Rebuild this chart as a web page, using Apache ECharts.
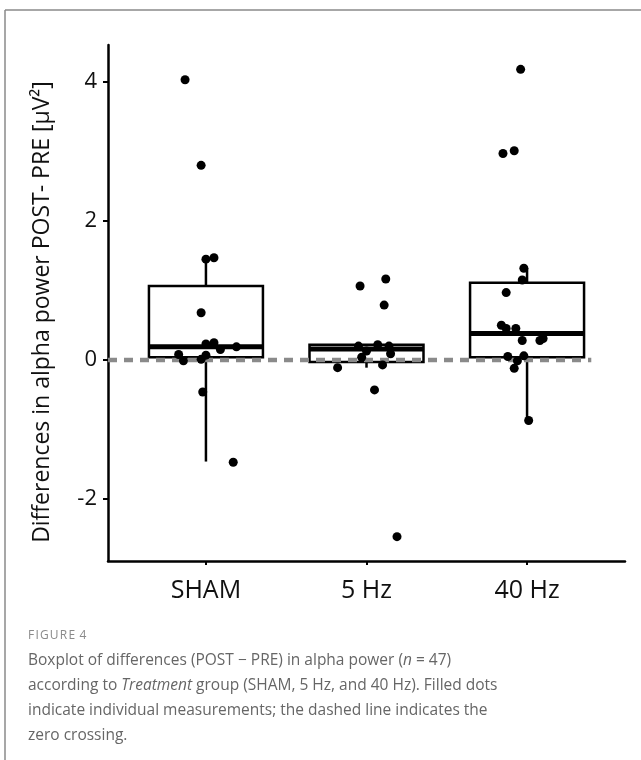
<!DOCTYPE html>
<html><head><meta charset="utf-8">
<script src="https://cdn.jsdelivr.net/npm/echarts@6/dist/echarts.min.js"></script>
<style>html,body{margin:0;padding:0;background:#fff}#c{width:641px;height:760px}</style>
</head><body><div id="c"></div>
<script>
// ---- data ----
const categories = ['SHAM', '5 Hz', '40 Hz'];
const yTicks = [-2, 0, 2, 4];
const yTitle = 'Differences in alpha power POST- PRE [μV²]';
// box stats: [lower whisker, Q1, median, Q3, upper whisker]
const boxSHAM = [-1.46, 0.04, 0.19, 1.065, 1.44];
const box5Hz = [-0.11, -0.03, 0.16, 0.22, 0.22];
const box40Hz = [-0.87, 0.04, 0.38, 1.11, 1.32];
// individual measurements and their horizontal jitter (category units)
const valsSHAM = [4.03, 2.80, 1.45, 1.47, 0.68, 0.23, 0.25, 0.15, 0.19, 0.08, -0.01, 0.01, 0.07, -0.46, -1.47];
const jitSHAM  = [-0.13, -0.03, 0.00, 0.05, -0.03, 0.00, 0.05, 0.09, 0.19, -0.17, -0.14, -0.03, 0.00, -0.02, 0.17];
const vals5Hz = [1.165, 1.065, 0.79, 0.20, 0.22, 0.20, 0.13, 0.09, 0.04, -0.07, -0.11, -0.43, -2.54];
const jit5Hz  = [0.12, -0.04, 0.11, -0.05, 0.07, 0.14, 0.00, 0.15, -0.03, 0.10, -0.18, 0.05, 0.19];
const vals40Hz = [4.18, 2.97, 3.01, 1.32, 1.15, 0.97, 0.50, 0.455, 0.455, 0.28, 0.28, 0.31, 0.05, 0.06, -0.01, -0.12, -0.87];
const jit40Hz  = [-0.04, -0.15, -0.08, -0.02, -0.03, -0.13, -0.16, -0.13, -0.07, -0.03, 0.08, 0.10, -0.12, -0.02, -0.06, -0.08, 0.01];
const zeroLine = 0;

// ---- build ----
const boxes = [boxSHAM, box5Hz, box40Hz];
const vals = [valsSHAM, vals5Hz, vals40Hz];
const jits = [jitSHAM, jit5Hz, jit40Hz];
const boxData = boxes.map((b, i) => [i + 1].concat(b));
const pts = [];
vals.forEach((arr, i) => arr.forEach((v, k) => pts.push([i + 1 + jits[i][k], v])));

const X_MIN = 0.39, X_MAX = 3.61, BOX_W = 0.71;
const FONT = '"Open Sans", sans-serif';

const chart = echarts.init(document.getElementById('c'), null, {renderer: 'canvas'});
chart.setOption({
  animation: false,
  backgroundColor: '#fff',
  grid: {left: 108, right: 16, top: 45, bottom: 199},
  xAxis: {
    type: 'value', min: X_MIN, max: X_MAX,
    splitLine: {show: false},
    axisLine: {show: true, onZero: false, lineStyle: {color: '#000', width: 2.5}},
    axisTick: {show: true, length: 4, lineStyle: {color: '#000', width: 2}, customValues: [1, 2, 3]},
    axisLabel: {
      customValues: [1, 2, 3], margin: 17, color: '#111', fontFamily: FONT, fontSize: 25,
      formatter: v => categories[Math.round(v) - 1]
    }
  },
  yAxis: {
    type: 'value', min: -2.89, max: 4.53,
    splitLine: {show: false},
    axisLine: {show: true, onZero: false, lineStyle: {color: '#000', width: 2.5}},
    axisTick: {show: true, length: 5, lineStyle: {color: '#000', width: 2}, customValues: yTicks},
    axisLabel: {customValues: yTicks, margin: 11, color: '#111', fontFamily: FONT, fontSize: 22}
  },
  series: [
    {
      type: 'custom', z: 2, clip: false,
      data: boxData,
      encode: {x: 0, y: [1, 2, 3, 4, 5]},
      renderItem: (params, api) => {
        const x = api.value(0);
        const lo = api.coord([x, api.value(1)]);
        const q1 = api.coord([x, api.value(2)]);
        const md = api.coord([x, api.value(3)]);
        const q3 = api.coord([x, api.value(4)]);
        const hi = api.coord([x, api.value(5)]);
        const hw = api.size([BOX_W, 0])[0] / 2;
        const cx = q1[0];
        const ls = {stroke: '#000', lineWidth: 2.5};
        return {
          type: 'group',
          children: [
            {type: 'line', shape: {x1: cx, y1: hi[1], x2: cx, y2: q3[1]}, style: ls},
            {type: 'line', shape: {x1: cx, y1: q1[1], x2: cx, y2: lo[1]}, style: ls},
            {type: 'rect', shape: {x: cx - hw, y: q3[1], width: 2 * hw, height: q1[1] - q3[1]},
             style: {fill: '#fff', stroke: '#000', lineWidth: 2.5}},
            {type: 'line', shape: {x1: cx - hw, y1: md[1], x2: cx + hw, y2: md[1]},
             style: {stroke: '#000', lineWidth: 5}}
          ]
        };
      }
    },
    {
      type: 'line', z: 3, symbol: 'none', silent: true,
      data: [[X_MIN, zeroLine], [3.40, zeroLine]],
      lineStyle: {color: '#8a8a8a', width: 4.5, type: [9, 7]}
    },
    {
      type: 'scatter', z: 4, symbol: 'circle', symbolSize: 9,
      itemStyle: {color: '#000', opacity: 1},
      data: pts
    }
  ],
  graphic: [
    {type: 'line', shape: {x1: 5, y1: 10, x2: 641, y2: 10}, style: {stroke: '#8a8a8a', lineWidth: 1.5}},
    {type: 'line', shape: {x1: 5, y1: 10, x2: 5, y2: 760}, style: {stroke: '#8a8a8a', lineWidth: 1.5}},
    {type: 'text', x: 42, y: 312, rotation: Math.PI / 2,
     style: {text: yTitle, fill: '#111', font: '23px ' + FONT, align: 'center', verticalAlign: 'middle'}},
    {type: 'text', left: 28, top: 630, style: {text: 'F I G U R E  4'.replace(/ (?! )/g, '\u200A'), fill: '#8a8a8a', font: '12px ' + FONT}},
    {type: 'text', left: 28, top: 648, style: {
      text: 'Boxplot of differences (POST − PRE) in alpha power ({i|n} = 47)\naccording to {i|Treatment} group (SHAM, 5 Hz, and 40 Hz). Filled dots\nindicate individual measurements; the dashed line indicates the\nzero crossing.',
      fill: '#666', fontFamily: FONT, fontSize: 15.5, lineHeight: 25,
      rich: {i: {fontStyle: 'italic', fontFamily: FONT, fontSize: 15.5, fill: '#666', lineHeight: 25}}
    }}
  ]
});
</script></body></html>
